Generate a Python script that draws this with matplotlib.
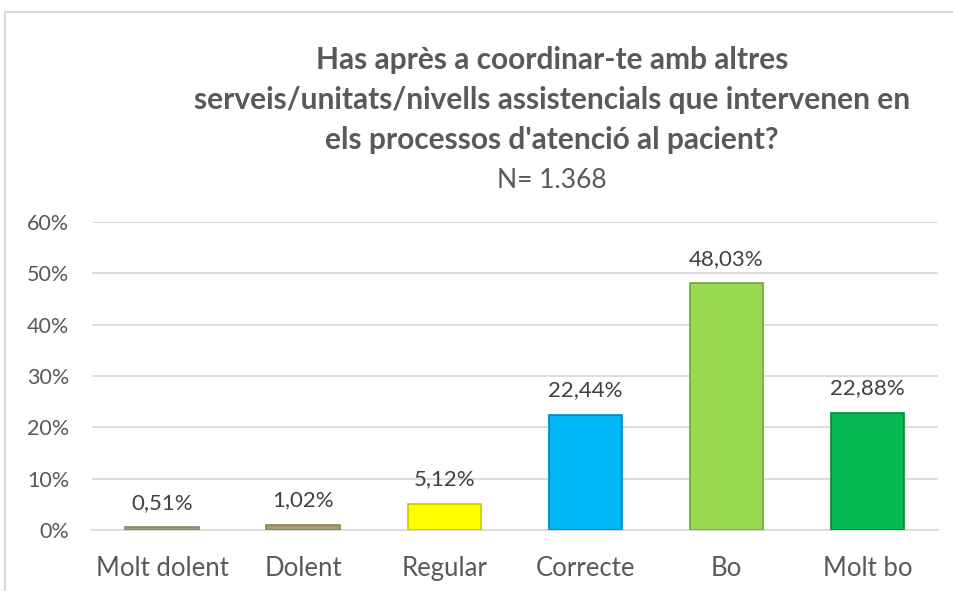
import matplotlib
matplotlib.use("Agg")
import matplotlib.pyplot as plt
from matplotlib.patches import Rectangle
from matplotlib.ticker import FuncFormatter

categories = ["Molt dolent", "Dolent", "Regular", "Correcte", "Bo", "Molt bo"]
values = [0.51, 1.02, 5.12, 22.44, 48.03, 22.88]
labels = ["0,51%", "1,02%", "5,12%", "22,44%", "48,03%", "22,88%"]
colors = ["#A39C7C", "#A89D6E", "#FFFF00", "#00B6F5", "#99D951", "#05B850"]
edges = ["#8A846A", "#8C835A", "#C8C800", "#0088B8", "#6FA838", "#038A3A"]
yticks = [0, 10, 20, 30, 40, 50, 60]

plt.rcParams['font.family'] = ['Lato', 'DejaVu Sans']
W, H = 954, 591
fig = plt.figure(figsize=(W / 100, H / 100), dpi=100)
fig.patch.set_facecolor("white")

# chart border
fig.patches.append(Rectangle((5 / W, -0.01), 1.0, 1 - 12 / H + 0.01, transform=fig.transFigure,
                             fill=False, edgecolor="#D9D9D9", linewidth=1.5))

left, right = 91.5 / W, 938 / W
bottom, top = 1 - 530 / H, 1 - 222 / H
ax = fig.add_axes([left, bottom, right - left, top - bottom])
x = list(range(len(categories)))
ax.bar(x, values, width=0.52, color=colors, edgecolor=edges, linewidth=1.2, zorder=3)
for xi, v, lab in zip(x, values, labels):
    ax.text(xi, v + 2.8, lab, ha="center", va="bottom", fontsize=16, color="#404040")

ax.set_xlim(-0.5, len(categories) - 0.5)
ax.set_ylim(0, 60)
ax.set_yticks(yticks)
ax.yaxis.set_major_formatter(FuncFormatter(lambda v, p: f"{int(v)}%"))
ax.set_xticks(x)
ax.set_xticklabels(categories)
ax.tick_params(axis="x", length=0, labelsize=18.5, colors="#595959", pad=19)
ax.tick_params(axis="y", length=0, labelsize=15.5, colors="#595959", pad=16)
ax.grid(axis="y", color="#D9D9D9", linewidth=1.3, zorder=0)
for s in ["top", "right", "left"]:
    ax.spines[s].set_visible(False)
ax.spines["bottom"].set_color("#D9D9D9")
ax.spines["bottom"].set_linewidth(1.3)

title = ("Has après a coordinar-te amb altres\n"
         "serveis/unitats/nivells assistencials que intervenen en\n"
         "els processos d'atenció al pacient?")
fig.text(552 / W, 1 - 100 / H, title, ha="center", va="center", fontsize=21.5,
         fontweight="bold", color="#595959", linespacing=1.5)
fig.text(552 / W, 1 - 180 / H, "N= 1.368", ha="center", va="center", fontsize=19,
         color="#595959")

fig.savefig("out.png", dpi=100)
